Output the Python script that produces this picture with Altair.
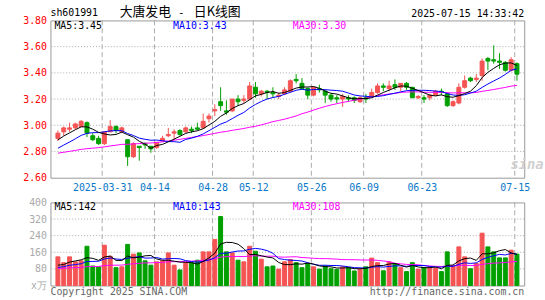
import altair as alt
import pandas as pd

# ---------------- data ----------------
opens = [2.90, 2.95, 2.97, 2.98, 2.99, 3.02, 2.92, 2.90, 2.86, 2.95,
         2.99, 2.95, 2.89, 2.76, 2.84, 2.86, 2.84, 2.83, 2.88, 2.92,
         2.94, 2.96, 2.95, 2.97, 2.98, 2.98, 3.05, 3.11, 3.18, 3.11,
         3.11, 3.20, 3.19, 3.20, 3.29, 3.24, 3.26, 3.25, 3.22, 3.24,
         3.26, 3.35, 3.32, 3.28, 3.23, 3.28, 3.26, 3.23, 3.21, 3.20,
         3.21, 3.21, 3.18, 3.21, 3.22, 3.25, 3.30, 3.28, 3.31, 3.29,
         3.32, 3.29, 3.21, 3.21, 3.21, 3.23, 3.26, 3.24, 3.15, 3.17,
         3.29, 3.36, 3.35, 3.38, 3.51, 3.50, 3.49, 3.48, 3.42, 3.47]
highs = [2.96, 2.99, 3.02, 3.02, 3.04, 3.03, 2.94, 2.92, 2.95, 3.04,
         3.00, 2.99, 2.89, 2.87, 2.84, 2.87, 2.84, 2.87, 2.92, 2.98,
         2.97, 2.97, 2.99, 2.99, 3.02, 3.09, 3.09, 3.16, 3.29, 3.19,
         3.20, 3.23, 3.23, 3.33, 3.33, 3.27, 3.27, 3.29, 3.25, 3.29,
         3.35, 3.39, 3.36, 3.29, 3.29, 3.31, 3.27, 3.24, 3.23, 3.24,
         3.23, 3.22, 3.22, 3.24, 3.28, 3.32, 3.32, 3.34, 3.35, 3.32,
         3.33, 3.29, 3.23, 3.23, 3.24, 3.27, 3.28, 3.25, 3.19, 3.32,
         3.38, 3.37, 3.39, 3.51, 3.52, 3.61, 3.55, 3.49, 3.52, 3.48]
lows = [2.88, 2.92, 2.95, 2.97, 2.99, 2.91, 2.88, 2.85, 2.85, 2.95,
        2.94, 2.94, 2.69, 2.75, 2.73, 2.82, 2.79, 2.82, 2.88, 2.91,
        2.89, 2.92, 2.94, 2.94, 2.96, 2.98, 3.02, 3.07, 3.11, 3.08,
        3.10, 3.15, 3.17, 3.19, 3.21, 3.22, 3.20, 3.21, 3.20, 3.23,
        3.25, 3.32, 3.27, 3.20, 3.22, 3.25, 3.17, 3.18, 3.17, 3.14,
        3.18, 3.17, 3.17, 3.17, 3.22, 3.24, 3.26, 3.26, 3.27, 3.26,
        3.27, 3.21, 3.20, 3.17, 3.19, 3.23, 3.23, 3.14, 3.14, 3.16,
        3.28, 3.33, 3.33, 3.34, 3.42, 3.47, 3.43, 3.41, 3.41, 3.34]
closes = [2.94, 2.98, 2.98, 3.01, 3.03, 2.94, 2.89, 2.86, 2.95, 2.99,
          2.96, 2.98, 2.76, 2.86, 2.83, 2.85, 2.82, 2.87, 2.90, 2.93,
          2.95, 2.93, 2.98, 2.96, 2.97, 3.03, 3.07, 3.12, 3.15, 3.10,
          3.20, 3.18, 3.20, 3.30, 3.24, 3.26, 3.25, 3.24, 3.23, 3.27,
          3.34, 3.34, 3.28, 3.23, 3.29, 3.27, 3.23, 3.20, 3.20, 3.22,
          3.20, 3.19, 3.21, 3.20, 3.25, 3.30, 3.29, 3.30, 3.29, 3.32,
          3.29, 3.21, 3.22, 3.20, 3.23, 3.26, 3.25, 3.15, 3.18, 3.29,
          3.34, 3.34, 3.36, 3.49, 3.49, 3.49, 3.48, 3.42, 3.50, 3.39]
volumes = [138, 110, 138, 114, 119, 189, 94, 90, 194, 141,
           86, 90, 198, 151, 157, 119, 98, 114, 119, 157,
           98, 75, 110, 110, 122, 162, 162, 222, 332, 162,
           157, 122, 114, 189, 165, 127, 90, 94, 79, 114,
           125, 110, 86, 106, 90, 79, 94, 81, 78, 90,
           87, 70, 78, 90, 132, 110, 71, 114, 106, 86,
           67, 110, 79, 87, 87, 83, 67, 162, 94, 186,
           138, 81, 106, 252, 186, 162, 133, 133, 170, 151]
# closes / volumes of the 29 sessions before the window (only feed the MA lines)
prev_closes = [2.78, 2.77, 2.79, 2.80, 2.78, 2.76, 2.75, 2.77, 2.78, 2.79,
               2.78, 2.77, 2.76, 2.75, 2.76, 2.77, 2.76, 2.75, 2.74, 2.76,
               2.74, 2.75, 2.76, 2.77, 2.79, 2.83, 2.86, 2.89, 2.92]
prev_volumes = [85, 78, 72, 90, 80, 76, 82, 70, 88, 79,
                75, 81, 77, 84, 73, 80, 78, 86, 76, 80,
                70, 75, 80, 78, 77, 95, 80, 85, 92]

label_index = [8, 17, 27, 34, 44, 53, 63, 79]
label_text = ["2025-03-31", "04-14", "04-28", "05-12", "05-26", "06-09", "06-23", "07-15"]
price_ticks = [2.6, 2.8, 3.0, 3.2, 3.4, 3.6, 3.8]
price_grid = [2.8, 3.0, 3.2, 3.4, 3.6]
vol_ticks = [0, 80, 160, 240, 320, 400]
vol_grid = [80, 160, 240, 320]

code_text = "sh601991"
title_parts = ["大唐发电", "-", "日K线图"]
time_text = "2025-07-15 14:33:42"
price_ma_text = ["MA5:3.45", "MA10:3.43", "MA30:3.30"]
vol_ma_text = ["MA5:142", "MA10:143", "MA30:108"]
vol_unit = "x万"
copyright_text = "Copyright 2025 SINA.COM"
url_text = "http://finance.sina.com.cn"
logo_text = "sina"

# ---------------- styling ----------------
RED = "#f55454"
GREEN = "#00a000"
MA_COLORS = ["#000000", "#0000ff", "#ff00ff"]
MONO = "DejaVu Sans Mono"
CJK = "Noto Sans CJK SC"
W, H1, H2 = 479, 159, 84
SHIFT = 0.3833

n = len(closes)
idx = list(range(n))
pc = len(prev_closes)
cs_all = pd.Series(prev_closes + closes)
vs_all = pd.Series(prev_volumes + volumes)


def ma(s, k):
    return s.rolling(k).mean().iloc[pc:].tolist()


df = pd.DataFrame({
    "i": idx, "open": opens, "high": highs, "low": lows, "close": closes,
    "vol": volumes, "zero": [0] * n,
    "dir": ["up" if c >= o else "down" for o, c in zip(opens, closes)],
    "pma5": ma(cs_all, 5), "pma10": ma(cs_all, 10), "pma30": ma(cs_all, 30),
    "vma5": ma(vs_all, 5), "vma10": ma(vs_all, 10), "vma30": ma(vs_all, 30),
})
grid_x = pd.DataFrame({"i": [k - SHIFT for k in label_index]})
pgrid = pd.DataFrame({"v": price_grid})
vgrid = pd.DataFrame({"v": vol_grid})
one = pd.DataFrame({"a": [0]})

xs = alt.Scale(domain=[-0.4333, -0.4333 + W / 6.0], nice=False, zero=False)
cscale = alt.Scale(domain=["up", "down"], range=[RED, GREEN])

label_expr = "[%s][indexof([%s], round(datum.value + %s))]" % (
    ",".join("'%s'" % t for t in label_text),
    ",".join(str(k) for k in label_index), SHIFT)
x_axis_top = alt.Axis(values=[k - SHIFT for k in label_index], labelExpr=label_expr,
                      ticks=False, domain=False, grid=False, labelFlush=False,
                      labelOverlap=False, labelColor="#0a78c8", labelFont=MONO,
                      labelFontSize=10, labelPadding=5, title=None)
X_top = alt.X("i:Q", scale=xs, axis=x_axis_top)
X_bot = alt.X("i:Q", scale=xs, axis=None)

py_scale = alt.Scale(domain=[2.6, 3.8], nice=False, zero=False)
py_axis = alt.Axis(values=price_ticks, format=".2f", ticks=False, domain=False, grid=False,
                   labelColor="#ff0000", labelFont=MONO, labelFontSize=10, labelPadding=4,
                   labelFlush=False, labelOverlap=False, title=None)
vy_scale = alt.Scale(domain=[0, 400], nice=False, zero=True)
vy_axis = alt.Axis(values=vol_ticks, ticks=False, domain=False, grid=False,
                   labelExpr="datum.value == 0 ? '%s' : datum.label" % vol_unit,
                   labelColor="#aaaaaa", labelFont=MONO, labelFontSize=10, labelPadding=4,
                   labelFlush=False, labelOverlap=False, title=None)

base = alt.Chart(df)

# ---------------- price panel ----------------
anchor = alt.Chart(one).mark_rect(opacity=0).encode(
    x=alt.value(-50), x2=alt.value(495), y=alt.value(-18), y2=alt.value(282))
p_vgrid = alt.Chart(grid_x).mark_rule(color="#aaaaaa", strokeDash=[5, 3], strokeWidth=1).encode(x=X_top)
p_hgrid = alt.Chart(pgrid).mark_rule(color="#aaaaaa", strokeDash=[1, 2], strokeWidth=1).encode(
    y=alt.Y("v:Q", scale=py_scale, axis=py_axis))
wicks = base.mark_rule(strokeWidth=1).encode(
    x=X_top, y=alt.Y("low:Q", scale=py_scale, axis=py_axis), y2="high:Q",
    color=alt.Color("dir:N", scale=cscale, legend=None))
bodies = base.mark_bar(size=4, strokeWidth=1).encode(
    x=X_top, y=alt.Y("open:Q", scale=py_scale, axis=py_axis), y2="close:Q",
    color=alt.Color("dir:N", scale=cscale, legend=None),
    stroke=alt.Stroke("dir:N", scale=cscale, legend=None))
p_lines = [base.mark_line(strokeWidth=1, color=c).encode(
    x=X_top, y=alt.Y(f + ":Q", scale=py_scale, axis=py_axis))
    for f, c in zip(["pma30", "pma10", "pma5"], MA_COLORS[::-1])]


def txt(s, x, y, color, font=MONO, size=10, align="left", **kw):
    return alt.Chart(one).mark_text(text=s, font=font, fontSize=size, color=color,
                                    align=align, baseline="alphabetic", **kw).encode(
        x=alt.value(x), y=alt.value(y))


p_texts = [
    txt(code_text, 0, -4, "#000000"),
    txt(title_parts[0], 70, -4, "#000000", font=CJK, size=13),
    txt(title_parts[1], 129, -4, "#000000", font=MONO, size=11),
    txt(title_parts[2], 145, -4, "#000000", font=CJK, size=13),
    txt(time_text, W, -3, "#000000", align="right"),
    txt(price_ma_text[0], 4, 9, MA_COLORS[0]),
    txt(price_ma_text[1], 124, 9, MA_COLORS[1]),
    txt(price_ma_text[2], 245, 9, MA_COLORS[2]),
    txt(logo_text, 465, 150, "#d0d0d0", size=14, fontStyle="italic", fontWeight="bold"),
]

top = alt.layer(anchor, p_hgrid, p_vgrid, wicks, bodies, *p_lines, *p_texts).properties(
    width=W, height=H1)

# ---------------- volume panel ----------------
v_vgrid = alt.Chart(grid_x).mark_rule(color="#aaaaaa", strokeDash=[5, 3], strokeWidth=1).encode(x=X_bot)
v_hgrid = alt.Chart(vgrid).mark_rule(color="#aaaaaa", strokeDash=[1, 2], strokeWidth=1).encode(
    y=alt.Y("v:Q", scale=vy_scale, axis=vy_axis))
vbars = base.mark_bar(size=4, strokeWidth=1).encode(
    x=X_bot, y=alt.Y("vol:Q", scale=vy_scale, axis=vy_axis), y2="zero:Q",
    color=alt.Color("dir:N", scale=cscale, legend=None),
    stroke=alt.Stroke("dir:N", scale=cscale, legend=None))
v_lines = [base.mark_line(strokeWidth=1, color=c).encode(
    x=X_bot, y=alt.Y(f + ":Q", scale=vy_scale, axis=vy_axis))
    for f, c in zip(["vma30", "vma10", "vma5"], MA_COLORS[::-1])]
v_texts = [
    txt(vol_ma_text[0], 4, 8, MA_COLORS[0]),
    txt(vol_ma_text[1], 124, 8, MA_COLORS[1]),
    txt(vol_ma_text[2], 245, 8, MA_COLORS[2]),
    txt(copyright_text, 0, 94, "#666666"),
    txt(url_text, W, 94, "#666666", align="right"),
]
bottom = alt.layer(v_hgrid, v_vgrid, vbars, *v_lines, *v_texts).properties(width=W, height=H2)

chart = alt.vconcat(top, bottom, spacing=25, bounds="flush").properties(
    padding=0, background="white").configure_view(stroke="#999999", strokeWidth=1)

chart.save("out.html", embed_options={"renderer": "svg", "actions": False})
